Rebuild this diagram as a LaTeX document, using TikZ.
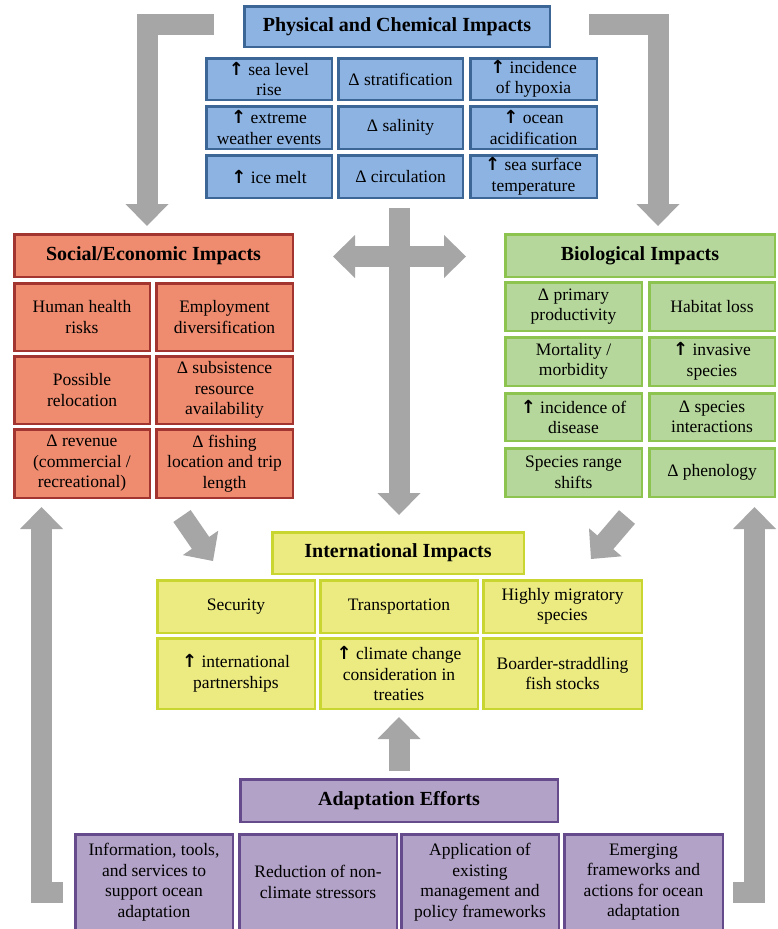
\documentclass[tikz,border=0pt]{standalone}
\usepackage{fontspec}
\setmainfont{Liberation Serif}
\newfontfamily\arrfont{DejaVu Sans}
\usetikzlibrary{calc}
\definecolor{bluefill}{HTML}{8DB3E2}
\definecolor{blueline}{HTML}{3B6696}
\definecolor{redfill}{HTML}{EF8C6F}
\definecolor{redline}{HTML}{A23530}
\definecolor{greenfill}{HTML}{B6D79B}
\definecolor{greenline}{HTML}{8DC450}
\definecolor{yelfill}{HTML}{ECEB82}
\definecolor{yelline}{HTML}{C9D530}
\definecolor{purfill}{HTML}{B2A2C7}
\definecolor{purline}{HTML}{654B8C}
\definecolor{arrowgray}{HTML}{A6A6A6}
\tikzset{
  cellbox/.style={draw, line width=2.5pt, inner sep=0pt, align=center,
    font=\fontsize{17.5}{20.5}\selectfont},
  ttlbox/.style={cellbox, font=\fontsize{20}{24}\selectfont\bfseries},
  bluebox/.style={fill=bluefill, draw=blueline},
  redbox/.style={fill=redfill, draw=redline},
  greenbox/.style={fill=greenfill, draw=greenline},
  yelbox/.style={fill=yelfill, draw=yelline},
  purbox/.style={fill=purfill, draw=purline},
  shaft/.style={draw=arrowgray, line width=21pt, line join=miter, line cap=butt},
}
% name, x1, y1, x2, y2, style, text
\newcommand\mkbox[7]{\node[#6, minimum width={#4-#2-2.5}, minimum height={#5-#3-2.5}] (#1) at ({(#2+#4)/2},{(#3+#5)/2}) {#7};}
% arrow head: base centre #1, tip #2
\newcommand\ahead[2]{\fill[arrowgray] (#2) -- ($(#1)!21.5pt!90:(#2)$) -- ($(#1)!21.5pt!-90:(#2)$) -- cycle;}
% straight block arrow from #1 to #2
\newcommand\blockarrow[2]{%
  \path ($(#2)!22pt!(#1)$) coordinate (hb) ($(#2)!21pt!(#1)$) coordinate (hs);
  \draw[shaft] (#1) -- (hs);
  \ahead{hb}{#2}}
\newcommand\up{{\arrfont\bfseries\fontsize{18}{20}\selectfont ↑}}
\begin{document}
\begin{tikzpicture}[x=1pt,y=-1pt]
\useasboundingbox (0,0) rectangle (777,929);
\clip (0,0) rectangle (777,929);
\fill[white] (0,0) rectangle (777,929);

% ---------- arrows ----------
% top-left elbow
\coordinate (tl0) at (214,24);
\coordinate (tl1) at (147,226);
\coordinate (tl1b) at (147,204);
\draw[shaft] (tl0) -| ($(tl1b)+(0,1)$);
\ahead{tl1b}{tl1}
% top-right elbow
\coordinate (tr0) at (589,24);
\coordinate (tr1) at (658,226);
\coordinate (tr1b) at (658,204);
\draw[shaft] (tr0) -| ($(tr1b)+(0,1)$);
\ahead{tr1b}{tr1}
% central cross
\coordinate (cv0) at (399,208);
\coordinate (cv1) at (399,515);
\blockarrow{cv0}{cv1}
\coordinate (chl) at (333,256.5);
\coordinate (chr) at (466,256.5);
\coordinate (chlb) at (355,256.5);
\coordinate (chrb) at (444,256.5);
\draw[shaft] ($(chlb)+(-1,0)$) -- ($(chrb)+(1,0)$);
\ahead{chlb}{chl}
\ahead{chrb}{chr}
% diagonal arrows
\coordinate (dl0) at (182,516);
\coordinate (dl1) at (213,561);
\blockarrow{dl0}{dl1}
\coordinate (dr0) at (627,517);
\coordinate (dr1) at (591,559);
\blockarrow{dr0}{dr1}
% centre up arrow
\coordinate (cu0) at (399,771);
\coordinate (cu1) at (399,717);
\blockarrow{cu0}{cu1}
% bottom-left elbow
\coordinate (bl0) at (63,892);
\coordinate (bl1) at (41.5,507);
\coordinate (bl1b) at (41.5,529);
\draw[shaft] (bl0) -| ($(bl1b)+(0,-1)$);
\ahead{bl1b}{bl1}
% bottom-right elbow
\coordinate (br0) at (733,892);
\coordinate (br1) at (754.5,507);
\coordinate (br1b) at (754.5,529);
\draw[shaft] (br0) -| ($(br1b)+(0,-1)$);
\ahead{br1b}{br1}

% ---------- physical and chemical ----------
\mkbox{pc}{243}{5}{551}{48}{ttlbox,bluebox}{Physical and Chemical Impacts}
\mkbox{b11}{205}{57}{333}{101}{cellbox,bluebox}{\up\ sea level\\rise}
\mkbox{b12}{337}{57}{464}{101}{cellbox,bluebox}{Δ stratification}
\mkbox{b13}{469}{57}{598}{101}{cellbox,bluebox}{\up\ incidence\\of hypoxia}
\mkbox{b21}{205}{105}{333}{150}{cellbox,bluebox}{\up\ extreme\\weather events}
\mkbox{b22}{337}{105}{464}{150}{cellbox,bluebox}{Δ salinity}
\mkbox{b23}{469}{105}{598}{150}{cellbox,bluebox}{\up\ ocean\\acidification}
\mkbox{b31}{205}{154}{333}{199}{cellbox,bluebox}{\up\ ice melt}
\mkbox{b32}{337}{154}{464}{199}{cellbox,bluebox}{Δ circulation}
\mkbox{b33}{469}{154}{598}{199}{cellbox,bluebox}{\up\ sea surface\\temperature}

% ---------- social / economic ----------
\mkbox{se}{13}{233}{294}{278}{ttlbox,redbox}{Social/Economic Impacts}
\mkbox{r11}{13}{282}{151}{352}{cellbox,redbox}{Human health\\risks}
\mkbox{r12}{155}{282}{294}{352}{cellbox,redbox}{Employment\\diversification}
\mkbox{r21}{13}{355}{151}{425}{cellbox,redbox}{Possible\\relocation}
\mkbox{r22}{155}{355}{294}{425}{cellbox,redbox}{Δ subsistence\\resource\\availability}
\mkbox{r31}{13}{428}{151}{499}{cellbox,redbox}{Δ revenue\\(commercial /\\recreational)}
\mkbox{r32}{155}{428}{294}{499}{cellbox,redbox}{Δ fishing\\location and trip\\length}

% ---------- biological ----------
\mkbox{bi}{504}{233}{776}{278}{ttlbox,greenbox}{Biological Impacts}
\mkbox{g11}{504}{281}{643}{332}{cellbox,greenbox}{Δ primary\\productivity}
\mkbox{g12}{648}{281}{776}{332}{cellbox,greenbox}{Habitat loss}
\mkbox{g21}{504}{336}{643}{387}{cellbox,greenbox}{Mortality /\\morbidity}
\mkbox{g22}{648}{336}{776}{387}{cellbox,greenbox}{\up\ invasive\\species}
\mkbox{g31}{504}{392}{643}{442}{cellbox,greenbox}{\up\ incidence of\\disease}
\mkbox{g32}{648}{392}{776}{442}{cellbox,greenbox}{Δ species\\interactions}
\mkbox{g41}{504}{447}{643}{498}{cellbox,greenbox}{Species range\\shifts}
\mkbox{g42}{648}{447}{776}{498}{cellbox,greenbox}{Δ phenology}

% ---------- international ----------
\mkbox{ii}{271}{531}{525}{575}{ttlbox,yelbox}{International Impacts}
\mkbox{y11}{156}{579}{316}{634}{cellbox,yelbox}{Security}
\mkbox{y12}{319}{579}{479}{634}{cellbox,yelbox}{Transportation}
\mkbox{y13}{482}{579}{643}{634}{cellbox,yelbox}{Highly migratory\\species}
\mkbox{y21}{156}{637}{316}{710}{cellbox,yelbox}{\up\ international\\partnerships}
\mkbox{y22}{319}{637}{479}{710}{cellbox,yelbox}{\up\ climate change\\consideration in\\treaties}
\mkbox{y23}{482}{637}{643}{710}{cellbox,yelbox}{Boarder-straddling\\fish stocks}

% ---------- adaptation ----------
\mkbox{ae}{239}{778}{559}{823}{ttlbox,purbox}{Adaptation Efforts}
\mkbox{p1}{74}{833}{234}{931}{cellbox,purbox}{Information, tools,\\and services to\\support ocean\\adaptation}
\mkbox{p2}{238}{833}{398}{931}{cellbox,purbox}{Reduction of non-\\climate stressors}
\mkbox{p3}{400}{833}{560}{931}{cellbox,purbox}{Application of\\existing\\management and\\policy frameworks}
\mkbox{p4}{563}{833}{724}{931}{cellbox,purbox}{Emerging\\frameworks and\\actions for ocean\\adaptation}
\end{tikzpicture}
\end{document}
